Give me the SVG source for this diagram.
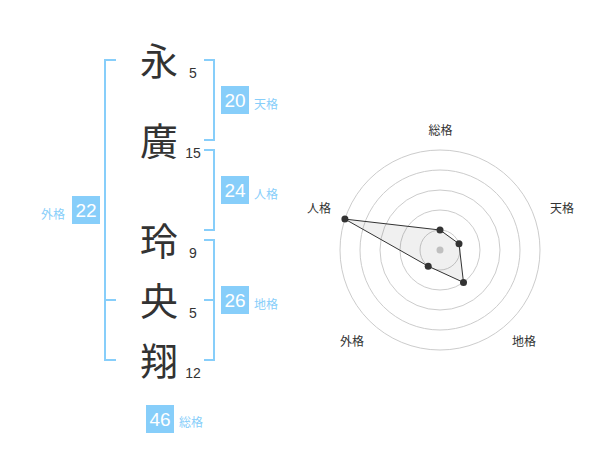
<svg xmlns="http://www.w3.org/2000/svg" width="600" height="470" viewBox="0 0 600 470">
<style>
.ch{font-family:"Noto Sans CJK JP","Noto Sans CJK SC",sans-serif;font-size:38px;fill:#333;text-anchor:middle}
.st{font-family:"Liberation Sans",Arial,sans-serif;font-size:14px;fill:#333;text-anchor:middle}
.br{fill:none;stroke:#87CEFA;stroke-width:2}
.box{fill:#87CEFA}
.bn{font-family:"Liberation Sans",Arial,sans-serif;font-size:19px;fill:#fff;text-anchor:middle}
.bl{font-family:"Noto Sans CJK JP","Noto Sans CJK SC",sans-serif;font-size:12px;fill:#87CEFA}
.ring{fill:none;stroke:#ccc;stroke-width:1}
.pl{font-family:"Noto Sans CJK JP","Noto Sans CJK SC",sans-serif;font-size:12px;fill:#333;text-anchor:middle}
.pt{fill:#333}
</style>
<rect width="600" height="470" fill="#fff"/>
<g id="chars">
<g id="c1"><text class="ch" x="159" y="75">永</text><text class="st" x="193" y="78">5</text></g>
<g id="c2"><text class="ch" x="159" y="155">廣</text><text class="st" x="193" y="158">15</text></g>
<g id="c3"><text class="ch" x="159" y="255">玲</text><text class="st" x="193" y="258">9</text></g>
<g id="c4"><text class="ch" x="159" y="315">央</text><text class="st" x="193" y="318">5</text></g>
<g id="c5"><text class="ch" x="159" y="375">翔</text><text class="st" x="193" y="378">12</text></g>
</g>
<g id="connectors">
<path class="br" d="M116,60 H105 V360 H116 M105,300 H116"/>
<path class="br" d="M204,60 H214 V140 H204"/>
<path class="br" d="M204,150 H214 V230 H204"/>
<path class="br" d="M204,240 H214 V360 H204 M214,300 H204"/>
</g>
<g id="tenkaku"><rect class="box" x="221" y="86" width="28" height="28"/><text class="bn" x="235" y="107">20</text><text class="bl" x="254" y="108.5">天格</text></g>
<g id="jinkaku"><rect class="box" x="221" y="176" width="28" height="28"/><text class="bn" x="235" y="197">24</text><text class="bl" x="254" y="198.5">人格</text></g>
<g id="chikaku"><rect class="box" x="221" y="286" width="28" height="28"/><text class="bn" x="235" y="307">26</text><text class="bl" x="254" y="308.5">地格</text></g>
<g id="gaikaku"><rect class="box" x="72" y="196" width="28" height="28"/><text class="bn" x="86" y="217">22</text><text class="bl" x="65" y="219" text-anchor="end">外格</text></g>
<g id="soukaku"><rect class="box" x="146" y="405" width="28" height="28"/><text class="bn" x="160" y="426">46</text><text class="bl" x="179" y="427">総格</text></g>
<g id="radar">
<circle class="ring" cx="440" cy="250" r="20"/>
<circle class="ring" cx="440" cy="250" r="40"/>
<circle class="ring" cx="440" cy="250" r="60"/>
<circle class="ring" cx="440" cy="250" r="80"/>
<circle class="ring" cx="440" cy="250" r="100"/>
<circle cx="440" cy="250" r="3.5" fill="#ccc"/>
<polygon points="440,230 459,243.8 463.5,282.4 428.2,266.2 344.9,219.1" fill="#000" fill-opacity="0.06" stroke="#333" stroke-width="1"/>
<circle class="pt" cx="440" cy="230" r="3.5"/>
<circle class="pt" cx="459" cy="243.8" r="3.5"/>
<circle class="pt" cx="463.5" cy="282.4" r="3.5"/>
<circle class="pt" cx="428.2" cy="266.2" r="3.5"/>
<circle class="pt" cx="344.9" cy="219.1" r="3.5"/>
<text class="pl" x="440.5" y="134.5">総格</text>
<text class="pl" x="562" y="212.5">天格</text>
<text class="pl" x="319" y="212.5">人格</text>
<text class="pl" x="352" y="346">外格</text>
<text class="pl" x="524" y="346">地格</text>
</g>
</svg>
